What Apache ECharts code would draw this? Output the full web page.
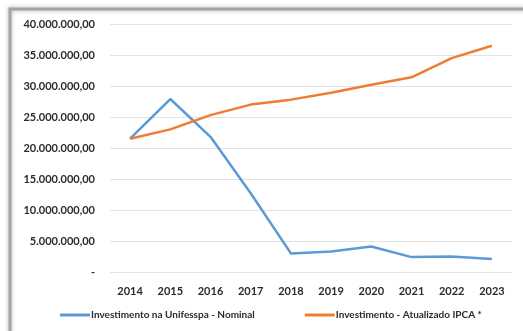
<!DOCTYPE html>
<html>
<head>
<meta charset="utf-8">
<style>
  html, body { margin: 0; padding: 0; background: #fff; }
  #chart { width: 523px; height: 331px; }
</style>
<script src="https://cdn.jsdelivr.net/npm/echarts@6/dist/echarts.min.js"></script>
</head>
<body>
<div id="chart"></div>
<script>
// Investment per year: nominal values vs. values updated by IPCA
const years = ['2014', '2015', '2016', '2017', '2018', '2019', '2020', '2021', '2022', '2023'];
const nominal = [21500000, 27900000, 21800000, 12700000, 3000000, 3300000, 4100000, 2400000, 2500000, 2100000];
const ipca = [21500000, 23000000, 25300000, 27000000, 27800000, 28900000, 30200000, 31400000, 34500000, 36500000];
const nominalName = 'Investimento na Unifesspa - Nominal';
const ipcaName = 'Investimento - Atualizado IPCA *';

function brl(v) {
  if (v === 0) return '-';
  const s = Math.round(v).toString().replace(/\B(?=(\d{3})+(?!\d))/g, '.');
  return s + ',00';
}

const font = 'Lato, "Open Sans", "Noto Sans", sans-serif';
const chart = echarts.init(document.getElementById('chart'), null, { renderer: 'canvas' });

chart.setOption({
  backgroundColor: '#ffffff',
  animation: false,
  graphic: [
    {
      type: 'rect',
      shape: { x: 10, y: 9, width: 540, height: 340 },
      style: { fill: 'rgba(0,0,0,0)', stroke: '#a3a3a3', lineWidth: 3,
               shadowBlur: 4, shadowColor: 'rgba(0,0,0,0.3)' },
      z: 100
    }
  ],
  grid: { left: 110, right: 11, top: 24, bottom: 59 },
  legend: {
    bottom: 6,
    left: 55,
    itemGap: 50,
    itemWidth: 30,
    itemHeight: 3,
    icon: 'rect',
    textStyle: { color: '#2b2b2b', fontSize: 10, fontWeight: 'bold', fontFamily: font,
                 padding: [0, 0, 0, -4] },
    data: [nominalName, ipcaName]
  },
  xAxis: {
    type: 'category',
    data: years,
    boundaryGap: true,
    axisLine: { show: false },
    axisTick: { show: false },
    axisLabel: { color: '#2b2b2b', fontSize: 11, fontWeight: 'bold', fontFamily: font, margin: 14 }
  },
  yAxis: {
    type: 'value',
    min: 0,
    max: 40000000,
    interval: 5000000,
    axisLine: { show: false },
    axisTick: { show: false },
    splitLine: { lineStyle: { color: '#e2e2e2', width: 1 } },
    axisLabel: {
      color: '#2b2b2b', fontSize: 11, fontWeight: 'bold', fontFamily: font,
      margin: 15,
      formatter: brl
    }
  },
  series: [
    {
      name: nominalName,
      type: 'line',
      data: nominal,
      symbol: 'none',
      lineStyle: { color: '#5b9bd5', width: 2.5 },
      itemStyle: { color: '#5b9bd5' }
    },
    {
      name: ipcaName,
      type: 'line',
      data: ipca,
      symbol: 'none',
      lineStyle: { color: '#ed7d31', width: 2.5 },
      itemStyle: { color: '#ed7d31' }
    }
  ]
});
</script>
</body>
</html>
